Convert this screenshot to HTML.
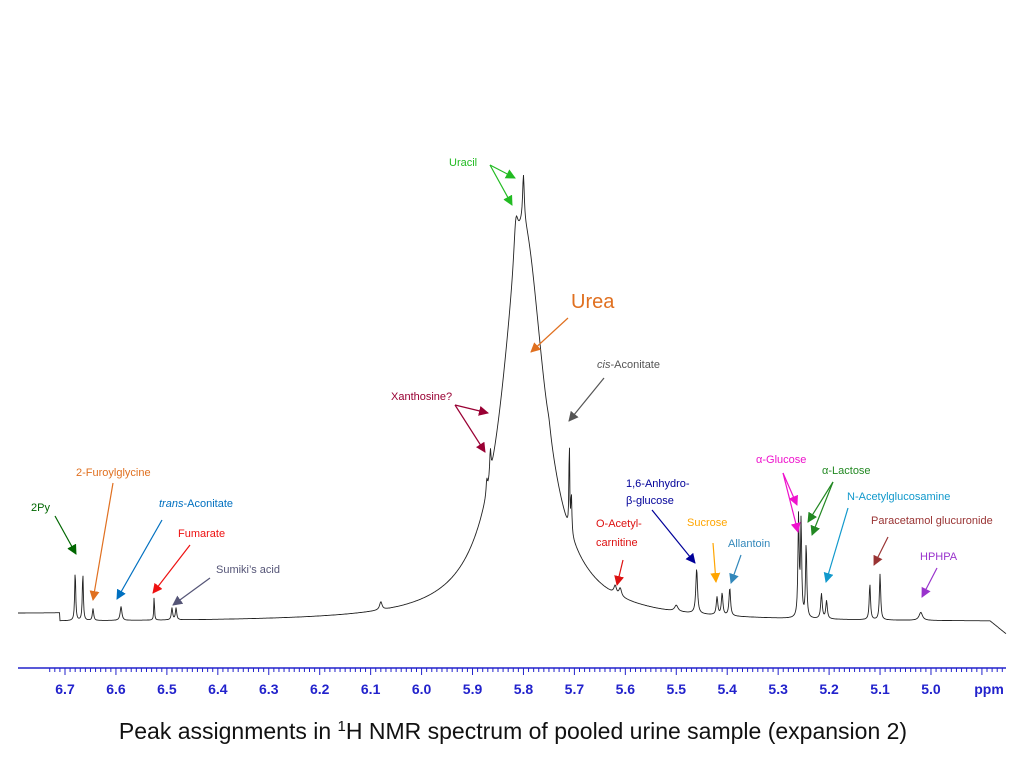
<!DOCTYPE html>
<html><head><meta charset="utf-8"><style>
body{margin:0;background:#fff;width:1024px;height:768px;overflow:hidden;font-family:"Liberation Sans",sans-serif}
svg{display:block}
</style></head><body>
<svg id="chart" width="1024" height="768" viewBox="0 0 1024 768"></svg>
<script>
// Peak data: chemical shift (ppm), intensity, half-width (ppm)
const peakPpm    = [5.80, 5.80, 5.815, 6.68, 6.665, 6.645, 6.59, 6.525, 6.49, 6.482, 5.865, 5.872, 5.71, 5.706, 5.46, 5.42, 5.41, 5.395, 5.26, 5.255, 5.245, 5.215, 5.205, 5.12, 5.10, 5.62, 5.61, 5.02, 5.75, 6.08, 5.50];
const peakHeight = [395, 48, 40, 50, 48, 12, 14, 25, 12, 12, 26, 14, 95, 40, 45, 18, 22, 28, 100, 95, 75, 25, 18, 36, 46, 8, 8, 8, 6, 8, 6];
const peakWidth  = [0.05, 0.002, 0.005, 0.0012, 0.0012, 0.0015, 0.002, 0.0008, 0.0015, 0.0015, 0.0015, 0.0015, 0.0008, 0.0012, 0.002, 0.0018, 0.0018, 0.0018, 0.0014, 0.0014, 0.0014, 0.0018, 0.0018, 0.0015, 0.0015, 0.003, 0.003, 0.004, 0.004, 0.003, 0.004];
const tickLabels = ["6.7","6.6","6.5","6.4","6.3","6.2","6.1","6.0","5.9","5.8","5.7","5.6","5.5","5.4","5.3","5.2","5.1","5.0"];

const NS="http://www.w3.org/2000/svg";
const svg=document.getElementById('chart');
const X0=65, PPM0=6.7, PXPER=509.4; // px per ppm
const xOf=p=>X0+(PPM0-p)*PXPER;
const BASE=622;
const yOf=v=>BASE-v;
function el(t,a){const e=document.createElementNS(NS,t);for(const k in a)e.setAttribute(k,a[k]);svg.appendChild(e);return e;}

// spectrum
let d='';
for(let x=18;x<=1006;x+=0.5){
  const p=PPM0-(x-X0)/PXPER;
  let v=0;
  for(let i=0;i<peakPpm.length;i++){const q=(p-peakPpm[i])/peakWidth[i];v+=peakHeight[i]/(1+q*q);}
  v+= (x<60?8:0) - (x>990?(x-990)*0.8:0);
  d+=(x===18?'M':'L')+x.toFixed(1)+','+yOf(v).toFixed(1);
}
const sp=el('path',{d:d,fill:'none',stroke:'#222','stroke-width':0.9});



// axis
const ax=el('line',{x1:18,y1:668,x2:1006,y2:668,stroke:'#2222cc','stroke-width':1.5});


for(let k=-3;k<=200;k++){
  const p=6.7-k*0.01;const x=xOf(p);if(x<18||x>1006)continue;
  const major=k%10===0;
  el('line',{x1:x,y1:668,x2:x,y2:major?675:672,stroke:'#2222cc','stroke-width':1});
}
tickLabels.forEach(t=>{
  const tx=el('text',{x:xOf(parseFloat(t)),y:694,'text-anchor':'middle','font-size':14,'font-weight':'bold',fill:'#2222cc'});
  tx.textContent=t;
  
  
});
const ppm=el('text',{x:989,y:694,'text-anchor':'middle','font-size':14,'font-weight':'bold',fill:'#2222cc'});
ppm.textContent='ppm';



// annotations
let mid=0;
function arrow(x1,y1,x2,y2,c){
  const id='m'+(mid++);
  const m=document.createElementNS(NS,'marker');
  m.setAttribute('id',id);m.setAttribute('markerWidth','10');m.setAttribute('markerHeight','10');
  m.setAttribute('refX','9');m.setAttribute('refY','5');m.setAttribute('orient','auto');m.setAttribute('markerUnits','userSpaceOnUse');
  const pp=document.createElementNS(NS,'path');pp.setAttribute('d','M0,0L10,5L0,10z');pp.setAttribute('fill',c);m.appendChild(pp);
  svg.appendChild(m);
  const l=el('line',{x1:x1,y1:y1,x2:x2,y2:y2,stroke:c,'stroke-width':1.2,'marker-end':'url(#'+id+')'});
  
  
}
function label(x,y,txt,c,size,anchor){
  const t=el('text',{x:x,y:y,fill:c,'font-size':size||11,'text-anchor':anchor||'start'});
  t.innerHTML=txt;
  
  
}
const ann=[
 ['Uracil',449,166,'#22bb22',[[490,165,515,178],[490,165,512,205]]],
 ['Urea',571,308,'#e07020',[[568,318,531,352]],20],
 ['<tspan font-style="italic">cis</tspan>-Aconitate',597,368,'#555',[[604,378,569,421]]],
 ['Xanthosine?',391,400,'#990033',[[455,405,488,413],[455,405,485,452]]],
 ['α-Glucose',756,463,'#ee11cc',[[783,473,797,505],[783,473,798,532]]],
 ['α-Lactose',822,474,'#228822',[[833,482,808,522],[833,482,812,535]]],
 ['N-Acetylglucosamine',847,500,'#1199cc',[[848,508,826,582]]],
 ['Paracetamol glucuronide',871,524,'#993333',[[888,537,874,565]]],
 ['HPHPA',920,560,'#9933cc',[[937,568,922,597]]],
 ['Allantoin',728,547,'#3388bb',[[741,555,731,583]]],
 ['Sucrose',687,526,'#ffa500',[[713,543,716,582]]],
 ['1,6-Anhydro-',626,487,'#000099',[[652,510,695,563]]],
 ['β-glucose',626,504,'#000099',[]],
 ['O-Acetyl-',596,527,'#dd1111',[[623,560,617,585]]],
 ['carnitine',596,546,'#dd1111',[]],
 ['2-Furoylglycine',76,476,'#e07020',[[113,483,93,600]]],
 ['<tspan font-style="italic">trans</tspan>-Aconitate',159,507,'#0070c0',[[162,520,117,599]]],
 ['2Py',31,511,'#006600',[[55,516,76,554]]],
 ['Fumarate',178,537,'#ee1111',[[190,545,153,593]]],
 ['Sumiki’s acid',216,573,'#555577',[[210,578,173,605]]]
];
ann.forEach(a=>{label(a[1],a[2],a[0],a[3],a[5]);a[4].forEach(s=>arrow(s[0],s[1],s[2],s[3],a[3]));});

const ti=el('text',{x:513,y:739,'text-anchor':'middle','font-size':23,fill:'#111'});
ti.innerHTML='Peak assignments in <tspan baseline-shift="super" font-size="15">1</tspan>H NMR spectrum of pooled urine sample (expansion 2)';


</script>
</body></html>
